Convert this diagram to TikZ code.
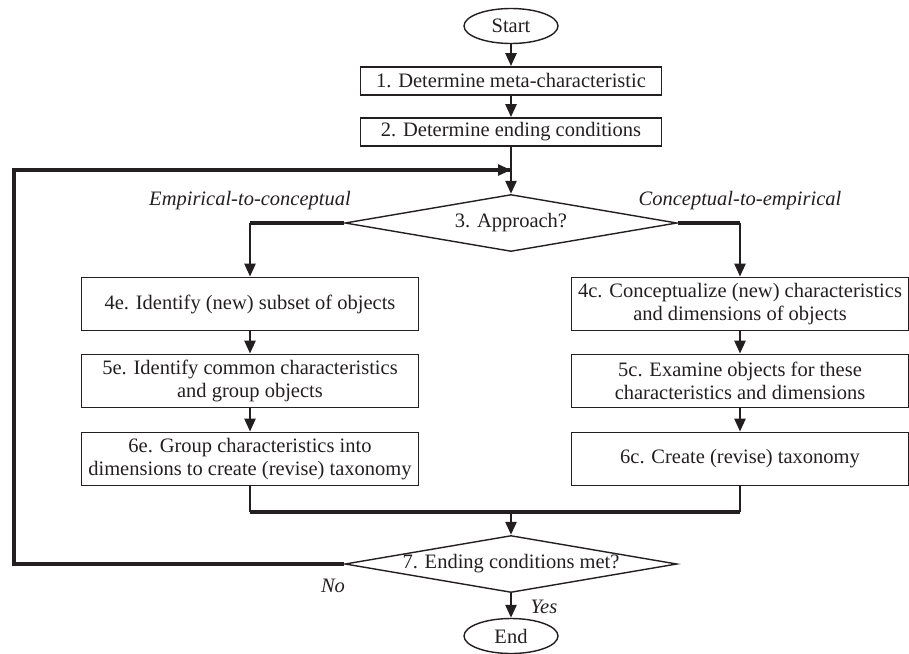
\documentclass[tikz,border=0pt]{standalone}
\usepackage{fontspec}
\setmainfont{Liberation Serif}
\usetikzlibrary{shapes.geometric,arrows.meta}
\definecolor{ink}{RGB}{35,31,32}
\begin{document}
\begin{tikzpicture}[x=1pt,y=-1pt,color=ink,
    font=\fontsize{20.5}{23}\selectfont,
    note/.style={font=\fontsize{20.5}{23}\selectfont\itshape},
    stepbox/.style={draw,line width=1.8pt,minimum width=337pt,minimum height=53pt,align=center,inner sep=2pt},
    topbox/.style={draw,line width=1.8pt,minimum width=301pt,minimum height=28pt,inner sep=2pt},
    askbox/.style={draw,diamond,aspect=5.8,line width=1.4pt,minimum width=332pt,minimum height=57pt,inner sep=-6pt},
    endbox/.style={draw,ellipse,line width=1.4pt,minimum width=94pt,minimum height=35pt,inner sep=0pt},
    flow/.style={line width=2.6pt,-{Triangle[width=11pt,length=13pt]}},
    bus/.style={line width=3.6pt},
    stub/.style={line width=2pt}]
    \useasboundingbox (0,0) rectangle (909,653);
    \node[endbox] (start) at (511,26) {Start};
    \node[topbox] (s1) at (511,81) {1. Determine meta-characteristic};
    \node[topbox] (s2) at (511,132) {2. Determine ending conditions};
    \node[askbox] (s3) at (511,223) {3. Approach?};
    \node[stepbox] (s4e) at (250,304) {4e. Identify (new) subset of objects};
    \node[stepbox] (s5e) at (250,381) {5e. Identify common characteristics\\and group objects};
    \node[stepbox] (s6e) at (250,459) {6e. Group characteristics into\\dimensions to create (revise) taxonomy};
    \node[stepbox] (s4c) at (740,304) {4c. Conceptualize (new) characteristics\\and dimensions of objects};
    \node[stepbox] (s5c) at (740,381) {5c. Examine objects for these\\characteristics and dimensions};
    \node[stepbox] (s6c) at (740,459) {6c. Create (revise) taxonomy};
    \node[askbox] (s7) at (511,564) {7. Ending conditions met?};
    \node[endbox] (stop) at (511,636) {End};
    \coordinate (loop) at (511,170);
    \coordinate (merge) at (511,512);
    \coordinate (rim) at (14,0);
    \draw[flow] (start) -- (s1);
    \draw[flow] (s1) -- (s2);
    \draw[flow] (s2) -- (s3);
    \draw[bus] (s3.west) -- (s3.west -| s4e) node[note,above=8pt] (emp) {Empirical-to-conceptual};
    \draw[bus] (s3.east) -- (s3.east -| s4c) node[note,above=8pt] (con) {Conceptual-to-empirical};
    \draw[flow] (s3.west -| s4e) -- (s4e);
    \draw[flow] (s3.east -| s4c) -- (s4c);
    \draw[flow] (s4e) -- (s5e);
    \draw[flow] (s5e) -- (s6e);
    \draw[flow] (s4c) -- (s5c);
    \draw[flow] (s5c) -- (s6c);
    \draw[stub] (s6e) -- (s6e |- merge);
    \draw[stub] (s6c) -- (s6c |- merge);
    \draw[bus] (s6e |- merge) -- (s6c |- merge);
    \draw[flow] (merge) -- (s7);
    \draw[bus] (s7.west) -- (s7.west -| rim) |- (loop);
    \draw[flow] ([xshift=-20pt]loop) -- (loop);
    \node[note] (no) at (333,586) {No};
    \draw[flow] (s7) -- (stop);
    \node[note] (yes) at (544,607) {Yes};
\end{tikzpicture}
\end{document}
